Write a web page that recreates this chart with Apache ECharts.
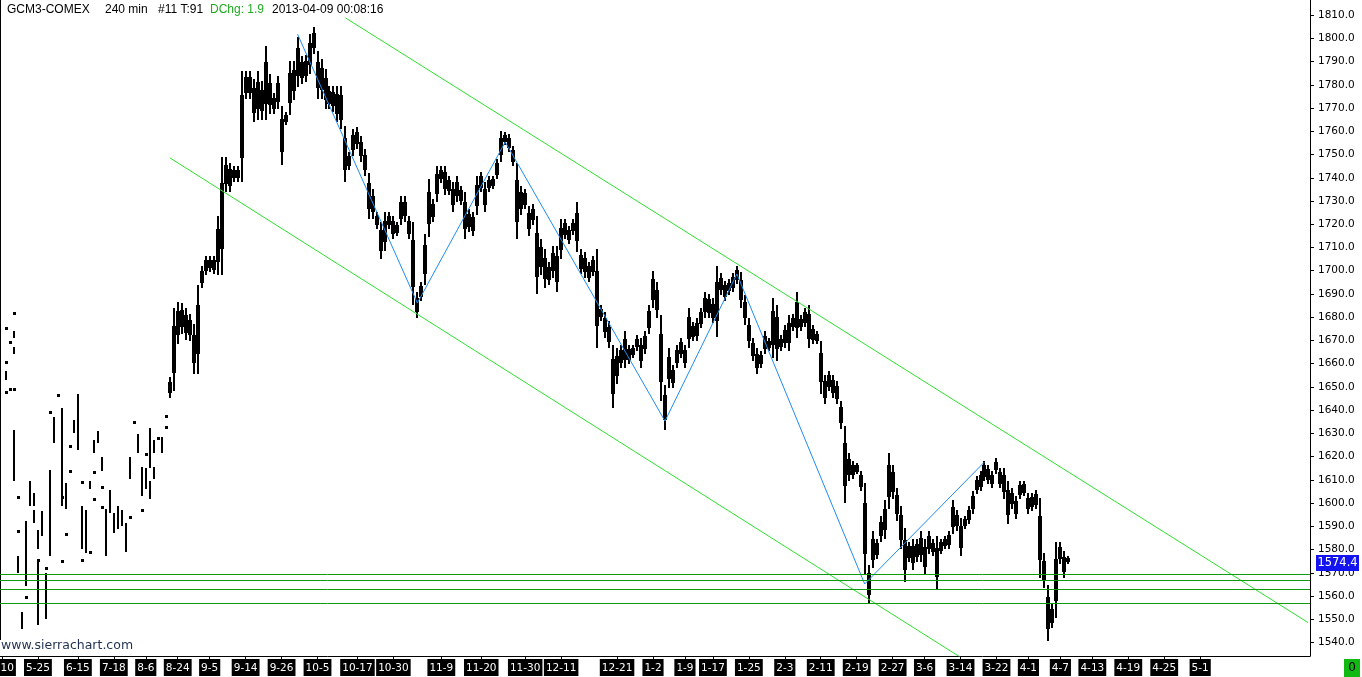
<!DOCTYPE html>
<html><head><meta charset="utf-8">
<script src="https://cdn.jsdelivr.net/npm/echarts@6/dist/echarts.min.js"></script>
<style>html,body{margin:0;padding:0;background:#fff}#c{width:1362px;height:677px}</style>
</head><body><div id="c"></div>
<script>
// ---- x axis: 4-px time slots, date labels at given slots ----
const SLOT_COUNT = 328;
const dateLabels = ['5-10','5-25','6-15','7-18','8-6','8-24','9-5','9-14','9-26','10-5','10-17','10-30','11-9','11-20','11-30','12-11','12-21','1-2','1-9','1-17','1-25','2-3','2-11','2-19','2-27','3-6','3-14','3-22','4-1','4-7','4-13','4-19','4-25','5-1'];
const dateLabelSlots = [0,9,19,28,36,44,52,61,70,79,89,98,110,120,131,140,154,163,171,178,187,196,205,214,223,231,240,249,257,265,273,282,291,300];

// ---- y axis ticks ----
const priceTicks = [1540,1550,1560,1570,1580,1590,1600,1610,1620,1630,1640,1650,1660,1670,1680,1690,1700,1710,1720,1730,1740,1750,1760,1770,1780,1790,1800,1810];

// ---- early thin-trading prints: [slot, low, high] ----
const sparseTicks = [[1,1675.3,1675.3],[3,1681.4,1681.4],[3,1671.5,1673.2],[2,1668.9,1668.9],[3,1664.6,1666.7],[1,1660.3,1660.3],[1,1653.8,1656.4],[1,1647.4,1647.4],[2,1648.7,1648.7],[3,1648.7,1648.7],[3,1610.0,1631.0],[4,1602.6,1602.6],[4,1587.6,1587.6],[4,1570.4,1576.8],[5,1546.3,1552.7],[6,1559.2,1559.2],[6,1564.8,1591.5],[6,1580.7,1590.6],[7,1599.2,1608.7],[8,1599.2,1603.5],[8,1591.9,1596.2],[9,1548.4,1574.7],[9,1580.7,1587.6],[9,1575.5,1575.5],[10,1586.3,1595.8],[11,1571.7,1571.7],[11,1550.6,1569.1],[12,1577.7,1579.8],[12,1577.7,1613.4],[12,1638.8,1638.8],[13,1626.3,1636.6],[14,1646.5,1646.5],[15,1599.2,1640.1],[15,1602.6,1602.6],[15,1574.7,1574.7],[16,1586.3,1586.3],[16,1597.9,1607.8],[17,1613.8,1613.8],[17,1624.2,1624.2],[18,1630.6,1634.9],[19,1623.7,1646.5],[19,1623.7,1629.3],[20,1608.7,1608.7],[20,1580.7,1598.3],[20,1575.5,1575.5],[21,1594.9,1596.2],[21,1579.0,1594.0],[22,1578.6,1578.6],[22,1606.5,1608.7],[23,1601.4,1601.4],[23,1613.0,1613.0],[23,1622.0,1626.3],[24,1626.3,1630.2],[25,1614.3,1619.4],[25,1606.5,1606.5],[25,1598.3,1598.3],[26,1577.7,1597.0],[26,1577.7,1590.6],[27,1596.2,1604.8],[28,1587.6,1594.9],[29,1589.3,1597.9],[30,1590.6,1596.2],[31,1585.4,1590.6],[31,1579.8,1589.3],[32,1594.0,1594.0],[32,1611.2,1619.4],[33,1634.5,1634.5],[34,1622.0,1629.3],[35,1603.5,1615.1],[35,1597.0,1597.0],[36,1606.9,1614.3],[36,1620.7,1620.7],[37,1623.7,1631.5],[37,1615.6,1622.0],[37,1602.6,1608.7],[38,1610.8,1615.1],[38,1622.0,1626.3],[39,1628.0,1628.0],[40,1623.7,1628.0],[40,1622.0,1624.2],[41,1632.7,1632.7],[41,1637.3,1637.3]];

// ---- continuous trading: low / high per slot, from slot 42 ----
const firstDenseSlot = 42;
const lows = [
1645.7,1648.7,1668.9,1673.6,1671.0,1670.2,1656.4,1656.4,
1696.9,1699.0,1700.3,1699.4,1699.0,1699.0,1734.7,1734.7,1739.0,1739.0,
1739.0,1774.7,1774.7,1764.8,1765.7,1765.7,1765.7,1768.3,1768.3,1770.4,
1746.3,1763.5,1777.7,1774.0,1779.5,1781.2,1782.0,1785.1,1793.7,1774.7,
1774.7,1770.4,1770.4,1769.1,1764.8,1761.8,1739.0,1744.2,1750.0,1753.2,
1747.6,1741.2,1723.1,1723.1,1718.8,1705.5,1709.0,1718.8,1714.5,1715.4,
1723.1,1721.8,1714.5,1686.1,1680.1,1687.4,1696.0,1716.2,1721.8,1736.0,
1738.2,1733.4,1733.4,1726.1,1730.4,1729.1,1714.5,1717.5,1715.4,1731.7,
1734.7,1726.1,1734.7,1736.0,1740.3,1753.2,1754.9,1751.9,1745.5,1714.1,
1724.8,1727.4,1715.4,1720.5,1690.8,1699.0,1693.0,1694.7,1697.3,1691.7,
1705.9,1714.5,1712.0,1716.2,1708.9,1699.4,1697.3,1696.0,1698.2,1667.2,
1678.8,1671.5,1667.2,1641.4,1651.7,1658.6,1658.6,1660.3,1662.9,1665.9,
1658.6,1664.6,1675.8,1684.4,1680.1,1644.4,1632.3,1654.3,1650.0,1658.6,
1662.9,1658.6,1675.8,1670.2,1670.2,1675.8,1680.1,1680.1,1678.0,1672.3,
1690.4,1687.4,1690.4,1691.7,1695.1,1684.4,1677.5,1667.2,1661.6,1656.4,
1658.6,1665.9,1665.9,1662.9,1661.6,1665.9,1667.2,1665.9,1674.5,1671.5,
1674.5,1676.6,1667.2,1669.3,1668.9,1647.4,1643.5,1648.7,1645.7,1643.1,
1632.7,1600.5,1610.0,1611.2,1613.0,1605.7,1570.0,1557.5,1572.5,1576.8,
1584.1,1585.0,1598.3,1602.6,1592.8,1581.1,1566.9,1575.5,1572.0,1575.5,
1575.5,1569.9,1578.6,1577.7,1563.5,1578.6,1581.1,1581.1,1591.5,1588.5,
1577.7,1589.7,1591.5,1595.8,1604.4,1605.7,1610.0,1608.7,1607.0,1613.0,
1607.0,1602.6,1591.5,1598.3,1593.6,1604.4,1603.5,1595.8,1597.1,1598.3,
1568.2,1563.9,1541.1,1546.7,1551.0,1574.3,1568.2,1574.3];
const highs = [
1653.8,1683.1,1686.1,1685.6,1683.1,1680.9,1676.6,1693.0,
1701.2,1705.9,1705.9,1705.5,1722.7,1748.5,1748.5,1745.5,1744.6,1744.6,
1785.1,1785.5,1785.1,1782.0,1785.5,1781.2,1796.2,1784.2,1776.0,1783.0,
1770.0,1767.8,1789.4,1789.4,1800.1,1791.9,1792.0,1801.4,1804.4,1793.7,
1790.6,1786.3,1779.0,1779.0,1779.0,1779.0,1756.2,1750.6,1760.5,1761.4,
1757.5,1751.9,1734.7,1734.7,1724.8,1720.5,1724.8,1724.8,1723.1,1720.5,
1731.7,1731.7,1723.1,1720.5,1690.4,1694.7,1715.0,1739.0,1730.4,1744.6,
1744.6,1744.6,1740.3,1737.7,1740.3,1736.0,1733.4,1726.1,1724.8,1740.3,
1742.0,1737.7,1740.3,1740.3,1747.6,1759.6,1759.2,1758.4,1753.2,1743.3,
1735.6,1734.7,1724.8,1728.2,1723.1,1713.2,1708.9,1703.3,1710.2,1710.2,
1721.8,1721.8,1718.8,1721.8,1729.1,1705.9,1707.6,1703.3,1705.9,1708.9,
1684.4,1681.8,1677.6,1657.3,1665.9,1667.2,1673.6,1667.2,1667.2,1671.5,
1670.2,1673.2,1684.4,1699.4,1694.7,1669.3,1650.0,1665.9,1658.6,1667.2,
1670.2,1667.2,1683.1,1677.5,1678.8,1683.1,1690.4,1689.5,1687.4,1701.2,
1698.2,1695.1,1696.0,1698.2,1701.2,1699.0,1688.7,1678.8,1670.2,1665.9,
1664.6,1673.2,1670.2,1687.4,1684.4,1671.5,1675.8,1680.1,1680.9,1690.4,
1680.1,1683.1,1684.4,1675.8,1673.2,1667.2,1654.3,1656.0,1654.3,1651.7,
1643.1,1631.5,1620.7,1617.3,1616.4,1611.2,1608.0,1572.5,1587.2,1584.1,
1594.0,1600.5,1620.7,1615.6,1605.7,1598.3,1588.5,1582.8,1584.1,1584.1,
1587.2,1583.7,1587.2,1584.1,1585.4,1584.1,1585.4,1587.2,1600.5,1596.2,
1592.8,1594.0,1598.3,1604.4,1611.2,1613.0,1617.3,1615.6,1613.0,1618.6,
1614.3,1614.3,1608.7,1605.7,1602.6,1609.0,1608.7,1601.4,1603.5,1604.8,
1601.4,1577.7,1557.0,1556.2,1582.8,1582.8,1578.6,1576.4];

// ---- drawings ----
const zigzagSlots = [74,104,126,166,184,216,246];
const zigzagPrices = [1801.8,1686.1,1755.4,1635.3,1698.6,1565.2,1617.7];
const upperTrendSlots = [86,327];
const upperTrendPrices = [1808.8,1548.6];
const lowerTrendSlots = [42,245];
const lowerTrendPrices = [1748.6,1528.2];
const levelPrices = [1569.4,1566.8,1562.9,1556.9];
const lastPrice = 1574.4;

// ---- build ----
const labelSet = new Set(dateLabelSlots);
const categories = Array.from({length: SLOT_COUNT}, () => '');
dateLabelSlots.forEach((s, i) => { categories[s] = dateLabels[i]; });

const dense = [];
for (let k = 0; k < lows.length; k++) {
  let lo = lows[k], hi = highs[k];
  if (k > 0) {
    if (highs[k-1] < lo) lo = highs[k-1];
    if (lows[k-1] > hi) hi = lows[k-1];
  }
  dense.push([firstDenseSlot + k, lo, hi]);
}

const FONT = '"DejaVu Sans", Verdana, sans-serif';
const HFONT = '"Liberation Sans", Arial, sans-serif';

// dense slot: thin full-range stroke plus a wider core (dense middle of the bars)
function renderDense(params, api) {
  const s = api.value(0);
  const top = api.coord([s, api.value(2)]);
  const bot = api.coord([s, api.value(1)]);
  const cx = Math.round(top[0]);
  const yT = Math.floor(top[1]) - 1;
  const yB = Math.ceil(bot[1]) + 1;
  const h = Math.max(yB - yT, 3);
  const span = yB - yT;
  const cT = Math.round(yT + span * 0.22);
  const cB = Math.round(yB - span * 0.22);
  return {
    type: 'group',
    children: [
      { type: 'rect', shape: { x: cx - 1, y: yT, width: 2, height: h }, style: { fill: '#000' } },
      { type: 'rect', shape: { x: cx - 2, y: cT, width: 4, height: Math.max(cB - cT, 3) }, style: { fill: '#000' } }
    ]
  };
}
// sparse print: thin stroke, or a small square for a single price
function renderSparse(params, api) {
  const s = api.value(0);
  const top = api.coord([s, api.value(2)]);
  const bot = api.coord([s, api.value(1)]);
  const cx = Math.round(top[0]);
  const yT = Math.floor(top[1]) - 1;
  const h = Math.max(Math.ceil(bot[1]) + 1 - yT, 3);
  const w = h <= 4 ? 3 : 2;
  return { type: 'rect', shape: { x: cx - 1, y: yT, width: w, height: h }, style: { fill: '#000' } };
}

const chart = echarts.init(document.getElementById('c'), null, { renderer: 'canvas' });
chart.setOption({
  animation: false,
  backgroundColor: '#fff',
  grid: { left: 0, right: 52, top: 0, bottom: 21, containLabel: false, outerBoundsMode: 'none' },
  xAxis: {
    type: 'category', data: categories, boundaryGap: true,
    axisLine: { show: true, lineStyle: { color: '#000', width: 1 } },
    axisTick: { show: true, alignWithLabel: true, length: 3, interval: (i) => labelSet.has(i), lineStyle: { color: '#000' } },
    axisLabel: {
      interval: (i) => labelSet.has(i), margin: 3, hideOverlap: false,
      color: '#fff', backgroundColor: '#000', padding: [3, 2, 2, 2],
      fontFamily: FONT, fontSize: 10.5, lineHeight: 12
    },
    splitLine: { show: false }
  },
  yAxis: {
    type: 'value', position: 'right', min: 1534.2, max: 1816.5, scale: true,
    axisLine: { show: true, lineStyle: { color: '#000', width: 1 } },
    axisTick: { show: true, length: 4, customValues: priceTicks, lineStyle: { color: '#000' } },
    axisLabel: { customValues: priceTicks, formatter: (v) => Number(v).toFixed(1), color: '#000', fontFamily: FONT, fontSize: 10.5, margin: 8 },
    splitLine: { show: false }
  },
  series: [
    { type: 'custom', name: 'GCM3 early', renderItem: renderSparse, data: sparseTicks, encode: { x: 0, y: [1, 2] }, z: 2, clip: true },
    { type: 'custom', name: 'GCM3', renderItem: renderDense, data: dense, encode: { x: 0, y: [1, 2] }, z: 2, clip: true },
    { type: 'line', name: 'zigzag', data: zigzagSlots.map((s, i) => [s, zigzagPrices[i]]), symbol: 'none', showSymbol: false,
      lineStyle: { color: '#1e8cf0', width: 1 }, z: 4, silent: true, clip: true },
    { type: 'line', name: 'upper', data: upperTrendSlots.map((s, i) => [s, upperTrendPrices[i]]), symbol: 'none', showSymbol: false,
      lineStyle: { color: '#2ee02e', width: 1 }, z: 3, silent: true, clip: true },
    { type: 'line', name: 'lower', data: lowerTrendSlots.map((s, i) => [s, lowerTrendPrices[i]]), symbol: 'none', showSymbol: false,
      lineStyle: { color: '#2ee02e', width: 1 }, z: 3, silent: true, clip: true }
  ]
});

// horizontal levels and last-price tag, placed through the axis scale
const yPix = (v) => chart.convertToPixel({ yAxisIndex: 0 }, v);
const gridRight = 1310;
const gfx = [
  { type: 'line', shape: { x1: 0.5, y1: 0, x2: 0.5, y2: 640 }, style: { stroke: '#000', lineWidth: 1 }, silent: true },
  { type: 'text', x: 7, y: 4, style: { text: 'GCM3-COMEX', font: '12px ' + HFONT, fill: '#000', verticalAlign: 'top' } },
  { type: 'text', x: 105, y: 4, style: { text: '240 min', font: '12px ' + HFONT, fill: '#000', verticalAlign: 'top' } },
  { type: 'text', x: 158, y: 4, style: { text: '#11 T:91', font: '12px ' + HFONT, fill: '#000', verticalAlign: 'top' } },
  { type: 'text', x: 210, y: 4, style: { text: 'DChg: 1.9', font: '12px ' + HFONT, fill: '#22aa22', verticalAlign: 'top' } },
  { type: 'text', x: 272, y: 4, style: { text: '2013-04-09 00:08:16', font: '12px ' + HFONT, fill: '#000', verticalAlign: 'top' } },
  { type: 'text', x: 1, y: 639, style: { text: 'www.sierrachart.com', font: '12.5px ' + FONT, fill: '#1f3050', verticalAlign: 'top' } },
  { type: 'rect', shape: { x: 1344, y: 659, width: 16, height: 18 }, style: { fill: '#13b913' } },
  { type: 'text', x: 1352, y: 668, style: { text: '0', font: '12px ' + FONT, fill: '#000', align: 'center', verticalAlign: 'middle' } }
];
levelPrices.forEach((v) => {
  const y = Math.round(yPix(v)) + 0.5;
  gfx.push({ type: 'line', shape: { x1: 0, y1: y, x2: gridRight, y2: y }, style: { stroke: '#0f9a0f', lineWidth: 1 }, z: 5, silent: true });
});
const ly = Math.round(yPix(lastPrice));
gfx.push({ type: 'rect', shape: { x: 1316, y: ly - 8, width: 43, height: 16 }, style: { fill: '#1414f0' }, z: 6 });
gfx.push({ type: 'text', x: 1337.5, y: ly, style: { text: lastPrice.toFixed(1), font: '11.5px ' + FONT, fill: '#fff', align: 'center', verticalAlign: 'middle' }, z: 7 });
chart.setOption({ graphic: gfx });
</script></body></html>
